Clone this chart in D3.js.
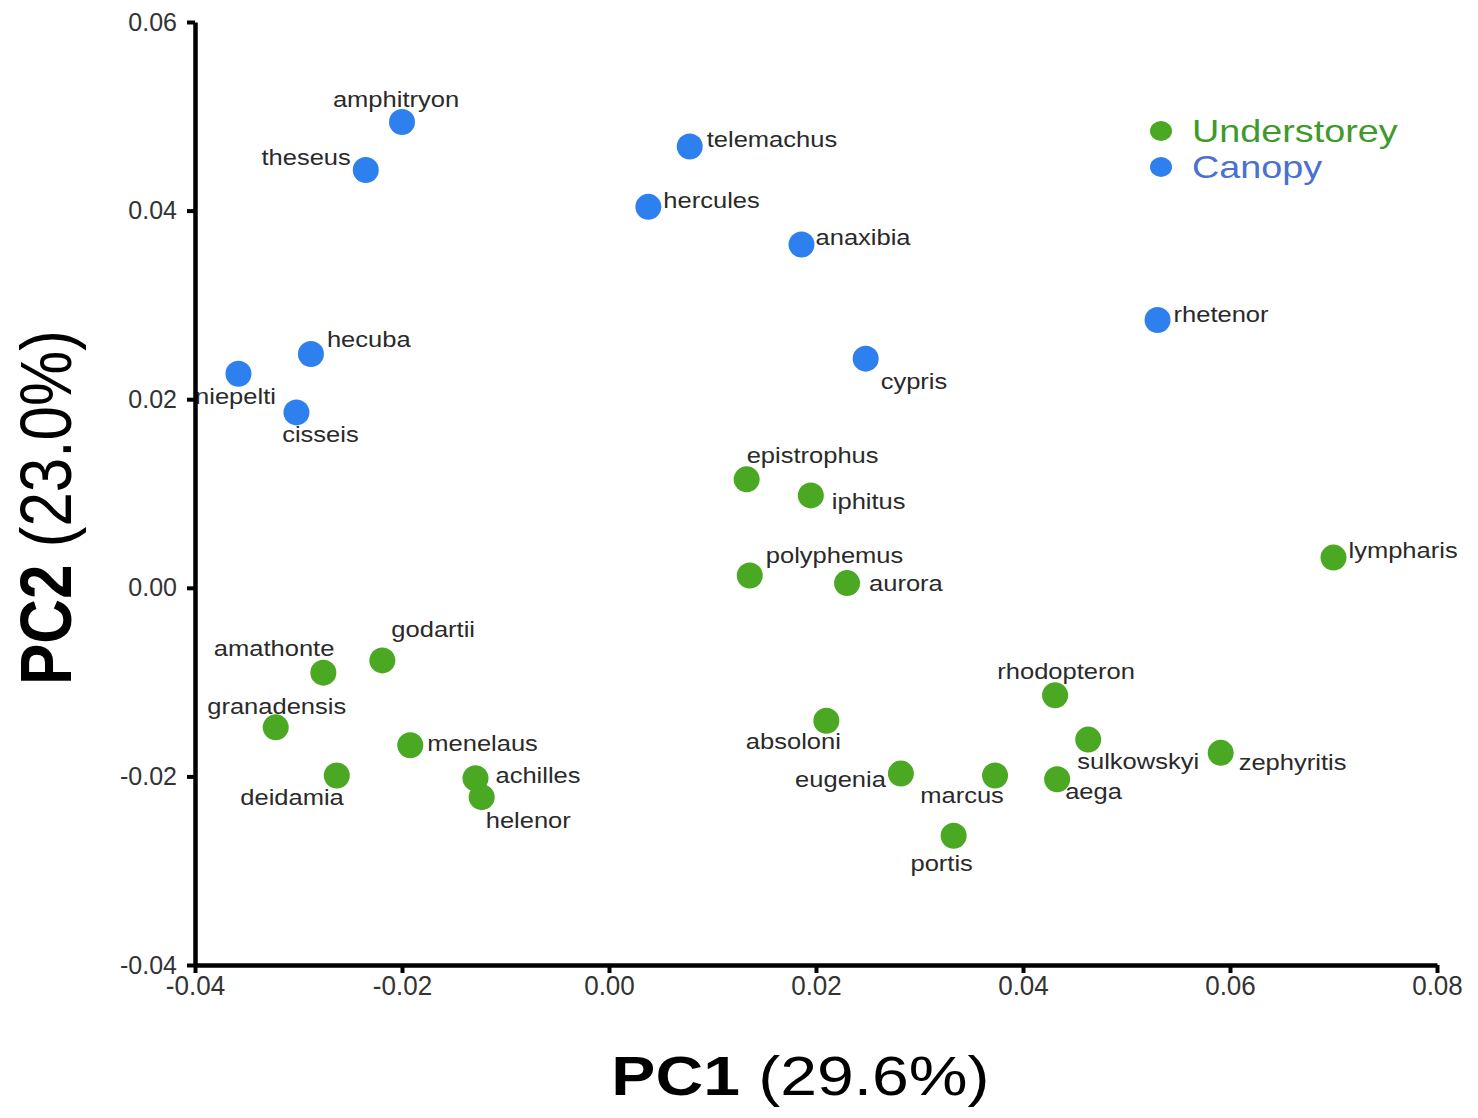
<!DOCTYPE html>
<html>
<head>
<meta charset="utf-8">
<script src="https://cdn.jsdelivr.net/npm/d3@7"></script>
<style>
    body { margin: 0; background: #fff; }
    text { font-family: Arial, "Liberation Sans", sans-serif; }
</style>
</head>
<body>
<div id="chart"></div>
<script>
// PCA scores
const names = [
    "amphitryon", "theseus", "telemachus", "hercules", "anaxibia", "rhetenor",
    "hecuba", "niepelti", "cisseis", "cypris",
    "epistrophus", "iphitus", "polyphemus", "aurora", "lympharis",
    "godartii", "amathonte", "granadensis", "menelaus", "deidamia", "achilles", "helenor",
    "rhodopteron", "absoloni", "sulkowskyi", "zephyritis", "eugenia", "marcus", "aega", "portis"
];
const pc1 = [
    -0.0200, -0.0235, 0.0078, 0.0038, 0.0186, 0.0530,
    -0.0288, -0.0358, -0.0302, 0.0248,
    0.0133, 0.0195, 0.0136, 0.0230, 0.0700,
    -0.0219, -0.0276, -0.0322, -0.0192, -0.0263, -0.0129, -0.0123,
    0.0431, 0.0210, 0.0463, 0.0591, 0.0282, 0.0373, 0.0433, 0.0333
];
const pc2 = [
    0.0494, 0.0443, 0.0468, 0.0404, 0.0364, 0.0284,
    0.0248, 0.0227, 0.0186, 0.0243,
    0.0115, 0.0098, 0.0013, 0.0005, 0.0032,
    -0.0077, -0.0090, -0.0148, -0.0167, -0.0199, -0.0202, -0.0222,
    -0.0114, -0.0141, -0.0161, -0.0175, -0.0197, -0.0199, -0.0203, -0.0263
];
const habitat = [
    "Canopy", "Canopy", "Canopy", "Canopy", "Canopy", "Canopy",
    "Canopy", "Canopy", "Canopy", "Canopy",
    "Understorey", "Understorey", "Understorey", "Understorey", "Understorey",
    "Understorey", "Understorey", "Understorey", "Understorey", "Understorey", "Understorey", "Understorey",
    "Understorey", "Understorey", "Understorey", "Understorey", "Understorey", "Understorey", "Understorey", "Understorey"
];
const groups = ["Understorey", "Canopy"];
const xTicks = [-0.04, -0.02, 0.00, 0.02, 0.04, 0.06, 0.08];
const yTicks = [-0.04, -0.02, 0.00, 0.02, 0.04, 0.06];

// label placement relative to the dot: [dx, dy, anchor]
const labelPos = {
    amphitryon: [-6, -23, "middle"], theseus: [-15, -13, "end"], telemachus: [17, -7, "start"],
    hercules: [15, -7, "start"], anaxibia: [14, -7, "start"], rhetenor: [16, -6, "start"],
    hecuba: [16, -15, "start"], niepelti: [-3, 23, "middle"], cisseis: [24, 22, "middle"],
    cypris: [15, 23, "start"], epistrophus: [0, -24, "start"], iphitus: [21, 6, "start"],
    polyphemus: [16, -20, "start"], aurora: [22, 0, "start"], lympharis: [15, -7, "start"],
    godartii: [9, -31, "start"], amathonte: [11, -24, "end"], granadensis: [1, -21, "middle"],
    menelaus: [17, -2, "start"], deidamia: [7, 22, "end"], achilles: [20, -3, "start"],
    helenor: [4, 23, "start"], rhodopteron: [11, -24, "middle"], absoloni: [-33, 21, "middle"],
    sulkowskyi: [-11, 22, "start"], zephyritis: [18, 9, "start"], eugenia: [-15, 6, "end"],
    marcus: [-33, 20, "middle"], aega: [8, 12, "start"], portis: [-12, 27, "middle"]
};

// the source figure is stretched a little sideways
const stretch = 1.16;

const points = names.map((n, i) => ({ name: n, x: pc1[i], y: pc2[i], group: habitat[i] }));

const margin = { top: 22, right: 41, bottom: 153, left: 195 };
const width = 1478 - margin.left - margin.right;
const height = 1118 - margin.top - margin.bottom;

const xScale = d3.scaleLinear().domain([-0.04, 0.08]).range([0, width]);
const yScale = d3.scaleLinear().domain([-0.04, 0.06]).range([height, 0]);

const dotColor = d3.scaleOrdinal().domain(groups).range(["#4aa822", "#2f80ef"]);
const legendText = d3.scaleOrdinal().domain(groups).range(["#3f9a2b", "#4a70d2"]);

const svg = d3.select("#chart").append("svg")
    .attr("width", 1478)
    .attr("height", 1118);

const g = svg.append("g")
    .attr("transform", `translate(${margin.left}, ${margin.top})`);

// points
g.selectAll("circle.pt")
    .data(points)
    .enter()
    .append("circle")
    .attr("class", "pt")
    .attr("cx", d => xScale(d.x))
    .attr("cy", d => yScale(d.y))
    .attr("r", 13)
    .attr("fill", d => dotColor(d.group));

// point labels
g.selectAll("text.lbl")
    .data(points)
    .enter()
    .append("text")
    .attr("class", "lbl")
    .attr("transform", d => `translate(${xScale(d.x) + labelPos[d.name][0]}, ${yScale(d.y) + labelPos[d.name][1]}) scale(${stretch}, 1)`)
    .attr("dy", "0.35em")
    .attr("text-anchor", d => labelPos[d.name][2])
    .style("font-size", "22px")
    .style("fill", "#2a2a2a")
    .text(d => d.name);

// axes
const fmt = d => d.toFixed(2);

const xAxis = g.append("g")
    .attr("transform", `translate(0, ${height})`)
    .call(d3.axisBottom(xScale).tickValues(xTicks).tickFormat(fmt).tickSize(8).tickSizeOuter(0));

xAxis.selectAll("text")
    .attr("transform", "scale(0.93,1)")
    .attr("y", 10)
    .style("font-size", "28px")
    .style("fill", "#333");

const yAxis = g.append("g")
    .call(d3.axisLeft(yScale).tickValues(yTicks).tickFormat(fmt).tickSize(8).tickSizeOuter(0));

yAxis.selectAll("text")
    .attr("x", -18)
    .style("font-size", "25px")
    .style("fill", "#333");

svg.selectAll(".domain").attr("stroke", "#000").attr("stroke-width", 4.5);
svg.selectAll(".tick line").attr("stroke", "#000").attr("stroke-width", 4);

// axis titles
const xTitle = svg.append("text")
    .attr("transform", `translate(${margin.left + xScale(0.0185)}, 1095) scale(${stretch + 0.02}, 1)`)
    .attr("text-anchor", "middle")
    .style("font-size", "56px")
    .style("fill", "#000");
xTitle.append("tspan").style("font-weight", "bold").text("PC1 ");
xTitle.append("tspan").text("(29.6%)");

const yTitle = svg.append("text")
    .attr("transform", `translate(71, ${margin.top + yScale(0.0085)}) scale(${stretch}, 1) rotate(-90)`)
    .attr("text-anchor", "middle")
    .style("font-size", "62px")
    .style("fill", "#000");
yTitle.append("tspan").style("font-weight", "bold").text("PC2 ");
yTitle.append("tspan").text("(23.0%)");

// legend
const legend = svg.append("g")
    .attr("transform", "translate(1161, 131)");

const items = legend.selectAll("g")
    .data(groups)
    .enter()
    .append("g")
    .attr("transform", (d, i) => `translate(0, ${i * 36})`);

items.append("ellipse")
    .attr("rx", 11)
    .attr("ry", 10)
    .attr("fill", d => dotColor(d));

items.append("text")
    .attr("transform", `translate(31, 11) scale(${stretch + 0.02}, 1)`)
    .style("font-size", "32px")
    .style("fill", d => legendText(d))
    .text(d => d);
</script>
</body>
</html>
